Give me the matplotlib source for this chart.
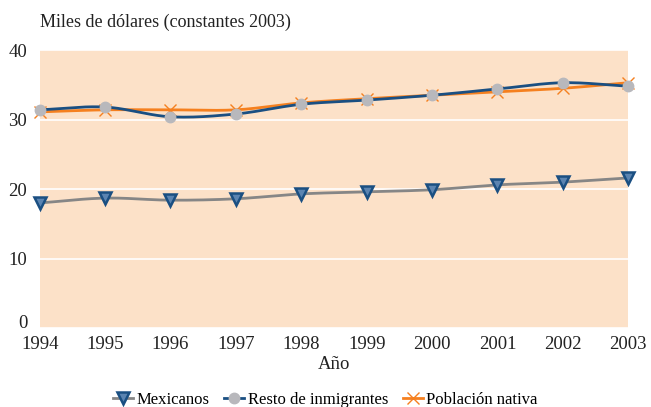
import numpy as np
import matplotlib
matplotlib.use("Agg")
import matplotlib.pyplot as plt
from matplotlib.lines import Line2D

plt.rcParams['font.family'] = ['Liberation Serif', 'DejaVu Serif']

years = [1994, 1995, 1996, 1997, 1998, 1999, 2000, 2001, 2002, 2003]
mexicanos = [18.0, 18.7, 18.4, 18.6, 19.3, 19.6, 19.9, 20.6, 21.0, 21.6]
resto = [31.4, 31.8, 30.4, 30.8, 32.2, 32.8, 33.5, 34.4, 35.3, 34.8]
nativa = [31.1, 31.4, 31.4, 31.4, 32.4, 33.0, 33.5, 34.0, 34.5, 35.3]


def smooth(x, y, n=20):
    # catmull-rom curve through the points, only for drawing the line
    x = np.asarray(x, float)
    y = np.asarray(y, float)
    px = np.concatenate([[2 * x[0] - x[1]], x, [2 * x[-1] - x[-2]]])
    py = np.concatenate([[2 * y[0] - y[1]], y, [2 * y[-1] - y[-2]]])
    xs, ys = [], []
    t = np.linspace(0, 1, n, endpoint=False)
    for i in range(1, len(px) - 2):
        for p, out in ((px, xs), (py, ys)):
            p0, p1, p2, p3 = p[i - 1], p[i], p[i + 1], p[i + 2]
            out.extend(0.5 * ((2 * p1) + (-p0 + p2) * t
                              + (2 * p0 - 5 * p1 + 4 * p2 - p3) * t ** 2
                              + (-p0 + 3 * p1 - 3 * p2 + p3) * t ** 3))
    xs.append(x[-1])
    ys.append(y[-1])
    return xs, ys


fig = plt.figure(figsize=(6.51, 4.07), dpi=100)
ax = fig.add_axes([0.061, 0.194, 0.904, 0.683])
ax.set_facecolor('#fce1c8')
for s in ax.spines.values():
    s.set_visible(False)

ax.set_xlim(1994, 2003)
ax.set_ylim(0, 40)
ax.set_yticks([0, 10, 20, 30, 40])
ax.set_xticks(years)
ax.grid(axis='y', color='white', linewidth=1.2)
ax.set_axisbelow(True)
ax.tick_params(length=0, labelsize=13.5, colors='#222222')
ax.tick_params(axis='x', pad=6)
ax.tick_params(axis='y', pad=9)
ax.get_yticklabels()[0].set_va('baseline')

c_mex_line = '#868686'
c_blue = '#1a4f82'
c_gray = '#b8b8bc'
c_orange = '#f5801f'

xs, ys = smooth(years, nativa)
ax.plot(xs, ys, color=c_orange, lw=2, zorder=3)
ax.plot(years, nativa, ls='none', marker='x', ms=8, mew=1, color=c_orange, zorder=4, clip_on=False)

xs, ys = smooth(years, resto)
ax.plot(xs, ys, color=c_blue, lw=2, zorder=5)
ax.plot(years, resto, ls='none', marker='o', ms=7.5, color=c_gray, mec=c_gray, zorder=6, clip_on=False)

xs, ys = smooth(years, mexicanos)
ax.plot(xs, ys, color=c_mex_line, lw=2, zorder=3)
ax.plot(years, mexicanos, ls='none', marker='v', ms=9, mfc='#5b84b1', mec=c_blue, mew=1.8, zorder=4, clip_on=False)

ax.set_xlabel('Año', fontsize=13.5, color='#222222', labelpad=2)
fig.text(0.061, 0.935, 'Miles de dólares (constantes 2003)', fontsize=13, color='#222222', ha='left')

handles = [
    Line2D([], [], color=c_mex_line, lw=2, marker='v', ms=9, mfc='#5b84b1', mec=c_blue, mew=1.8),
    Line2D([], [], color=c_blue, lw=2, marker='o', ms=7.5, mfc=c_gray, mec=c_gray),
    Line2D([], [], color=c_orange, lw=2, marker='x', ms=8, mew=1),
]
fig.legend(handles, ['Mexicanos', 'Resto de inmigrantes', 'Población nativa'],
           loc='lower center', bbox_to_anchor=(0.5, -0.04), ncol=3, frameon=False,
           fontsize=12, handlelength=1.2, handletextpad=0.2, columnspacing=0.9)

fig.savefig('out.png', dpi=100)
